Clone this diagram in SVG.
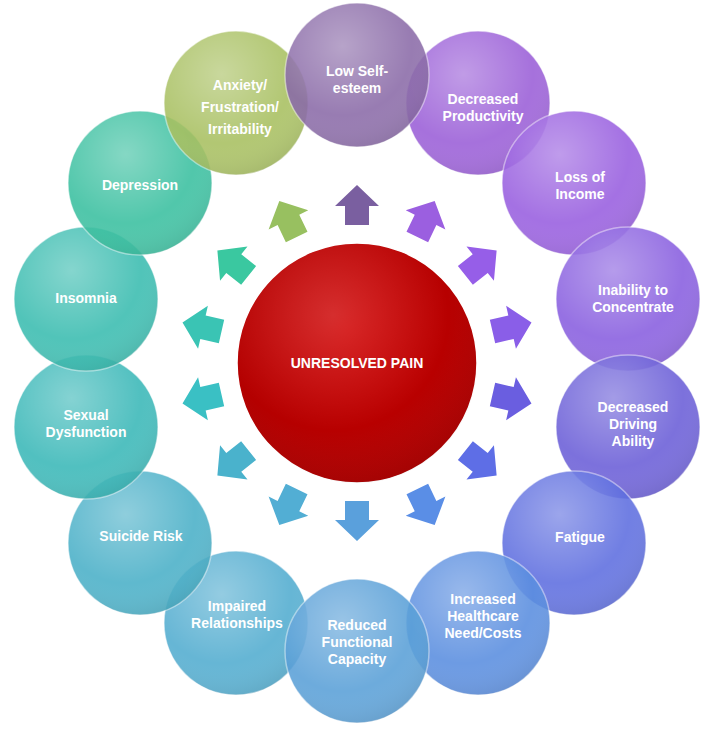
<svg xmlns="http://www.w3.org/2000/svg" width="727" height="729" viewBox="0 0 727 729">
<defs>
<radialGradient id="shine" cx="0.4" cy="0.3" r="0.8"><stop offset="0" stop-color="#fff" stop-opacity="0.3"/><stop offset="0.6" stop-color="#fff" stop-opacity="0"/><stop offset="1" stop-color="#000" stop-opacity="0.12"/></radialGradient>
<radialGradient id="red" cx="0.45" cy="0.35" r="0.7"><stop offset="0" stop-color="#d00000"/><stop offset="1" stop-color="#a80000"/></radialGradient>
<polygon id="arr" points="-12,20 12,20 12,1 22,1 0,-20 -22,1 -12,1"/>
</defs>
<style>
.c{stroke:#fff;stroke-opacity:0.5;stroke-width:1.5;opacity:0.88}
.t{font-family:"Liberation Sans",Arial,sans-serif;font-weight:bold;font-size:14px;fill:#fff;text-anchor:middle}
</style>
<rect width="727" height="729" fill="#fff"/>
<g id="connectors">
<use href="#arr" fill="#7a5fa0" transform="translate(357,205) rotate(0)"/>
<use href="#arr" fill="#9b5fe0" transform="translate(426,219) rotate(25.7)"/>
<use href="#arr" fill="#965ee8" transform="translate(481,263) rotate(51.4)"/>
<use href="#arr" fill="#8a5ee8" transform="translate(512,327) rotate(77.1)"/>
<use href="#arr" fill="#6a5ee0" transform="translate(512,399) rotate(102.9)"/>
<use href="#arr" fill="#5e6ee6" transform="translate(481,463) rotate(128.6)"/>
<use href="#arr" fill="#5a8ee6" transform="translate(426,507) rotate(154.3)"/>
<use href="#arr" fill="#5aa0dc" transform="translate(357,521) rotate(180)"/>
<use href="#arr" fill="#52aed4" transform="translate(288,507) rotate(205.7)"/>
<use href="#arr" fill="#4ab2cc" transform="translate(233,463) rotate(231.4)"/>
<use href="#arr" fill="#3ac0c4" transform="translate(202,399) rotate(257.1)"/>
<use href="#arr" fill="#3ac4b4" transform="translate(202,327) rotate(282.9)"/>
<use href="#arr" fill="#3ac8a0" transform="translate(233,263) rotate(308.6)"/>
<use href="#arr" fill="#98c060" transform="translate(288,219) rotate(334.3)"/>
</g>
<g id="center"><circle cx="357" cy="363" r="120" fill="url(#red)" stroke="#fff" stroke-width="1.5"/><circle cx="357" cy="363" r="120" fill="url(#shine)" opacity="0.6"/><text class="t" x="357" y="368">UNRESOLVED PAIN</text></g>
<g id="n1"><circle class="c" cx="478" cy="103" r="72" fill="#9a5ed8"/><circle cx="478" cy="103" r="72" fill="url(#shine)"/><text class="t" x="483" y="104">Decreased</text><text class="t" x="483" y="121">Productivity</text></g>
<g id="n2"><circle class="c" cx="574" cy="183" r="72" fill="#985ee0"/><circle cx="574" cy="183" r="72" fill="url(#shine)"/><text class="t" x="580" y="182">Loss of</text><text class="t" x="580" y="199">Income</text></g>
<g id="n3"><circle class="c" cx="628" cy="299" r="72" fill="#885ee0"/><circle cx="628" cy="299" r="72" fill="url(#shine)"/><text class="t" x="633" y="295">Inability to</text><text class="t" x="633" y="312">Concentrate</text></g>
<g id="n4"><circle class="c" cx="628" cy="427" r="72" fill="#6a5ed8"/><circle cx="628" cy="427" r="72" fill="url(#shine)"/><text class="t" x="633" y="412">Decreased</text><text class="t" x="633" y="429">Driving</text><text class="t" x="633" y="446">Ability</text></g>
<g id="n5"><circle class="c" cx="574" cy="543" r="72" fill="#5e6ee0"/><circle cx="574" cy="543" r="72" fill="url(#shine)"/><text class="t" x="580" y="542">Fatigue</text></g>
<g id="n6"><circle class="c" cx="478" cy="623" r="72" fill="#5a8ee0"/><circle cx="478" cy="623" r="72" fill="url(#shine)"/><text class="t" x="483" y="604">Increased</text><text class="t" x="483" y="621">Healthcare</text><text class="t" x="483" y="638">Need/Costs</text></g>
<g id="n8"><circle class="c" cx="236" cy="623" r="72" fill="#52acd0"/><circle cx="236" cy="623" r="72" fill="url(#shine)"/><text class="t" x="237" y="611">Impaired</text><text class="t" x="237" y="628">Relationships</text></g>
<g id="n7"><circle class="c" cx="357" cy="651" r="72" fill="#5aa0d8"/><circle cx="357" cy="651" r="72" fill="url(#shine)"/><text class="t" x="357" y="630">Reduced</text><text class="t" x="357" y="647">Functional</text><text class="t" x="357" y="664">Capacity</text></g>
<g id="n9"><circle class="c" cx="140" cy="543" r="72" fill="#4ab0c8"/><circle cx="140" cy="543" r="72" fill="url(#shine)"/><text class="t" x="141" y="541">Suicide Risk</text></g>
<g id="n10"><circle class="c" cx="86" cy="427" r="72" fill="#3ab8b8"/><circle cx="86" cy="427" r="72" fill="url(#shine)"/><text class="t" x="86" y="420">Sexual</text><text class="t" x="86" y="437">Dysfunction</text></g>
<g id="n11"><circle class="c" cx="86" cy="299" r="72" fill="#3abcb0"/><circle cx="86" cy="299" r="72" fill="url(#shine)"/><text class="t" x="86" y="303">Insomnia</text></g>
<g id="n12"><circle class="c" cx="140" cy="183" r="72" fill="#3ac0a0"/><circle cx="140" cy="183" r="72" fill="url(#shine)"/><text class="t" x="140" y="190">Depression</text></g>
<g id="n13"><circle class="c" cx="236" cy="103" r="72" fill="#a8c060"/><circle cx="236" cy="103" r="72" fill="url(#shine)"/><text class="t" x="240" y="90">Anxiety/</text><text class="t" x="240" y="112">Frustration/</text><text class="t" x="240" y="134">Irritability</text></g>
<g id="n0"><circle class="c" cx="357" cy="75" r="72" fill="#8a6aa8"/><circle cx="357" cy="75" r="72" fill="url(#shine)"/><text class="t" x="357" y="76">Low Self-</text><text class="t" x="357" y="93">esteem</text></g>
</svg>
